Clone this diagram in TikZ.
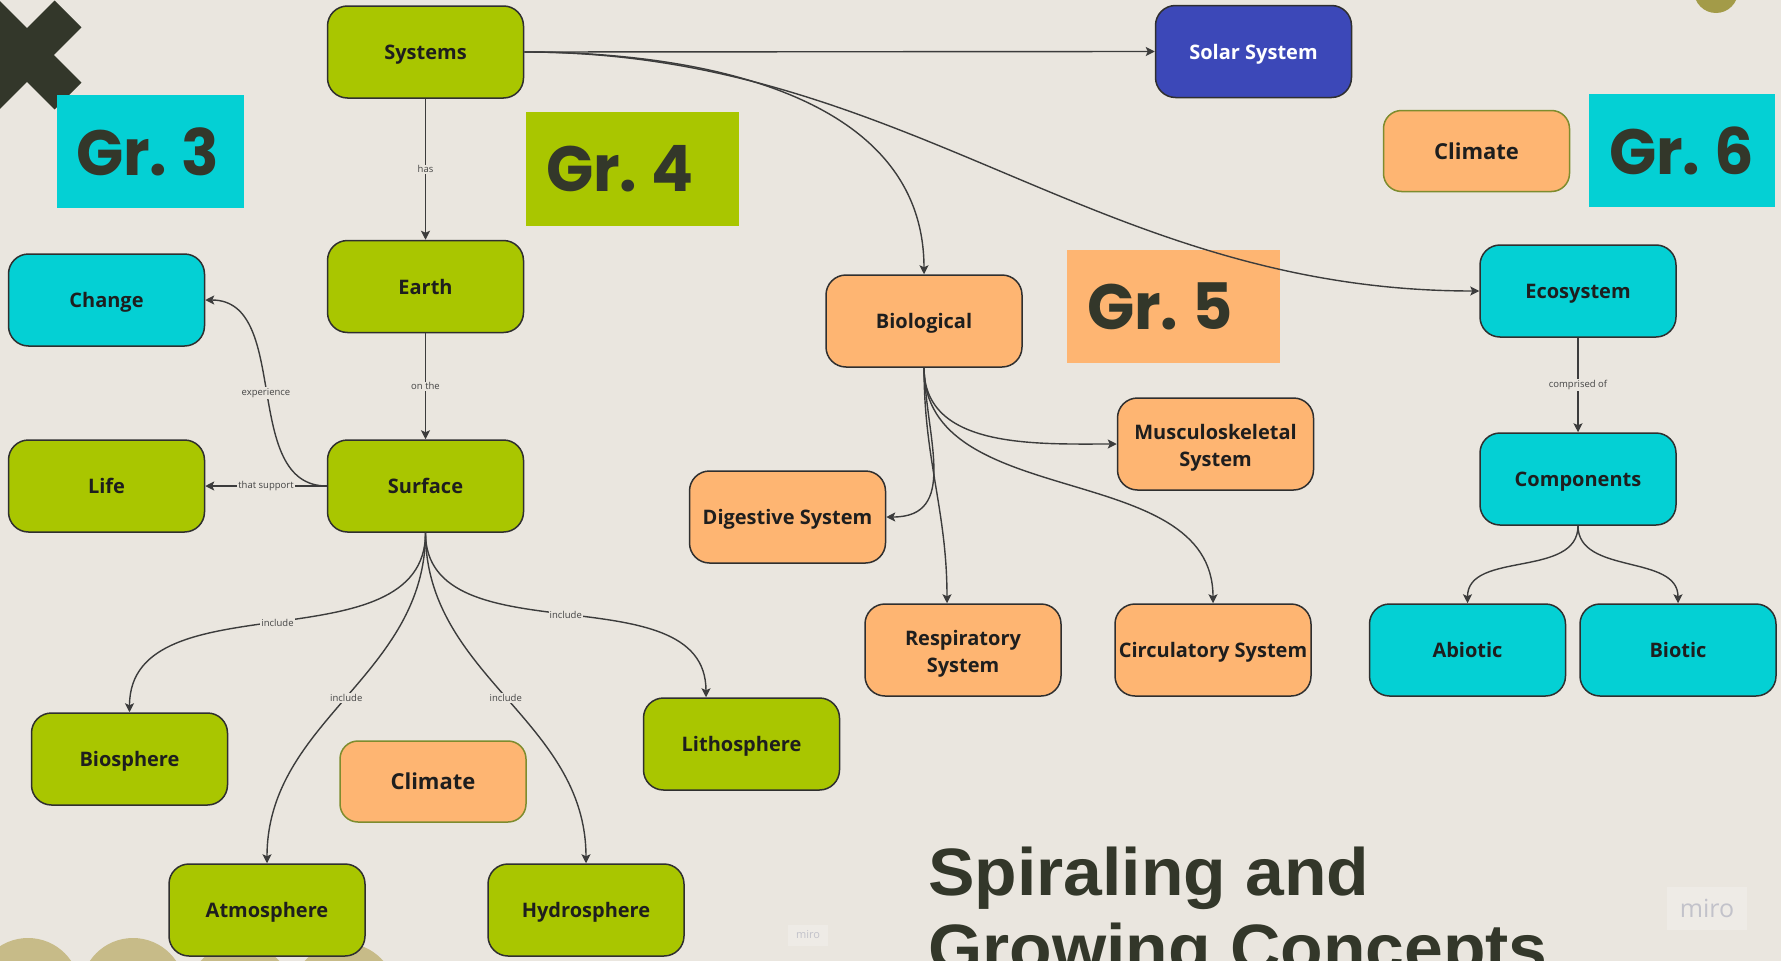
\documentclass[tikz,border=0pt]{standalone}
\usepackage{fontspec}
\usetikzlibrary{arrows.meta}
\newfontfamily\osans{Open Sans}
\newfontfamily\popp{Poppins}[FakeStretch=0.97]
\newfontfamily\lsans{Liberation Sans}[FakeStretch=1.04]

\definecolor{bg}{HTML}{EAE6DF}
\definecolor{lime}{HTML}{A9C600}
\definecolor{aqua}{HTML}{04D0D4}
\definecolor{peach}{HTML}{FEB572}
\definecolor{royal}{HTML}{3C48B8}
\definecolor{ink}{HTML}{1E1E1E}
\definecolor{darkolive}{HTML}{33372A}
\definecolor{rim}{HTML}{2F2F2F}
\definecolor{olivegreen}{HTML}{7E8C2E}
\definecolor{wire}{HTML}{3C3C3C}
\definecolor{lbltext}{HTML}{444444}
\definecolor{khaki}{HTML}{C7BB88}
\definecolor{mustard}{HTML}{A39B48}
\definecolor{wmgray}{HTML}{C2C2CA}
\definecolor{wmfill}{HTML}{EEEBE6}

\tikzset{
  box/.style={rectangle, rounded corners=20pt, draw=rim, line width=1.5pt,
    minimum width=196pt, minimum height=92pt, inner sep=3pt, align=center,
    text=ink, font=\osans\bfseries\fontsize{20}{27}\selectfont},
  oneline/.style={text height=15pt, text depth=0pt},
  greenbox/.style={box, oneline, fill=lime},
  aquabox/.style={box, oneline, fill=aqua},
  peachbox/.style={box, oneline, fill=peach},
  twoline/.style={box, fill=peach},
  bluebox/.style={box, oneline, fill=royal, text=white},
  climatebox/.style={box, fill=peach, draw=olivegreen, rounded corners=18pt,
    minimum width=186pt, minimum height=81pt, text height=16pt, text depth=0pt,
    font=\osans\bfseries\fontsize{22}{27}\selectfont},
  gradebox/.style={rectangle, inner sep=0pt},
  gradetext/.style={anchor=west, inner sep=0pt, text=darkolive,
    font=\popp\bfseries\fontsize{64}{70}\selectfont},
  conn/.style={draw=wire, line width=1.4pt,
    -{Stealth[length=9pt,width=9pt,inset=2pt]}},
  lbl/.style={fill=bg, inner sep=1pt, text=lbltext,
    font=\osans\fontsize{9.5}{11}\selectfont},
  titletext/.style={anchor=base west, text=darkolive, inner sep=0pt,
    font=\lsans\bfseries\fontsize{67}{76}\selectfont},
  watermark/.style={rectangle, fill=wmfill, text=wmgray, inner sep=0pt}
}

\begin{document}
\begin{tikzpicture}[x=1pt,y=1pt]
\useasboundingbox (0,0) rectangle (1781,-961);
\clip (0,0) rectangle (1781,-961);
\fill[bg] (0,0) rectangle (1781,-961);

% decorative shapes
\draw[darkolive, line width=38pt] (-14,-96) -- (68,-14);
\draw[darkolive, line width=38pt] (-14,-14) -- (68,-96);
\fill[mustard] (1716,9) circle (22);
\fill[khaki] (28,-990) circle (52);
\fill[khaki] (133,-990) circle (52);
\fill[khaki] (240,-995) circle (52);
\fill[khaki] (344,-995) circle (52);

% grade tags
\node[gradebox, fill=aqua, minimum width=187pt, minimum height=113pt] (g3) at (150.5,-151.5) {};
\node[gradetext] (g3t) at ([xshift=19pt]g3.west) {Gr.\hspace{14pt}3};
\node[gradebox, fill=lime, minimum width=213pt, minimum height=114pt] (g4) at (632.5,-169) {};
\node[gradetext] (g4t) at ([xshift=20pt]g4.west) {Gr.\hspace{14pt}4};
\node[gradebox, fill=peach, minimum width=213pt, minimum height=113pt] (g5) at (1173.5,-306.5) {};
\node[gradetext] (g5t) at ([xshift=20pt]g5.west) {Gr.\hspace{14pt}5};
\node[gradebox, fill=aqua, minimum width=186pt, minimum height=113pt] (g6) at (1682,-150.5) {};
\node[gradetext] (g6t) at ([xshift=20pt]g6.west) {Gr.\hspace{14pt}6};

% concept boxes
\node[greenbox] (sys) at (425.5,-52) {Systems};
\node[greenbox] (earth) at (425.5,-286.5) {Earth};
\node[greenbox] (surf) at (425.5,-486) {Surface};
\node[aquabox] (change) at (106.5,-300) {Change};
\node[greenbox] (life) at (106.5,-486) {Life};
\node[greenbox] (bios) at (129.5,-759) {Biosphere};
\node[climatebox] (clim1) at (433,-781.5) {Climate};
\node[greenbox] (litho) at (741.5,-744) {Lithosphere};
\node[greenbox] (atmo) at (267,-910) {Atmosphere};
\node[greenbox] (hydro) at (586,-910) {Hydrosphere};
\node[bluebox] (solar) at (1253.5,-51.5) {Solar System};
\node[climatebox] (clim2) at (1476.5,-151) {Climate};
\node[peachbox] (bio) at (924,-321) {Biological};
\node[twoline] (musc) at (1215.5,-444) {\rule{0pt}{22pt}Musculoskeletal\\System};
\node[peachbox] (dig) at (787.5,-517) {Digestive System};
\node[twoline] (resp) at (963,-650) {\rule{0pt}{22pt}Respiratory\\System};
\node[peachbox] (circ) at (1213,-650) {Circulatory System};
\node[aquabox] (eco) at (1578,-291) {Ecosystem};
\node[aquabox] (comp) at (1578,-479) {Components};
\node[aquabox] (abio) at (1467.5,-650) {Abiotic};
\node[aquabox] (biot) at (1678,-650) {Biotic};

% connector end points that sit off the box centre line
\coordinate (lithoin) at ([xshift=-35.5pt]litho.north);
\coordinate (respin) at ([xshift=-16pt]resp.north);

% connectors
\draw[conn] (sys) -- node[lbl] {has} (earth);
\draw[conn] (earth) -- node[lbl] {on the} (surf);
\draw[conn] (surf.west) -- node[lbl] {that support} (life.east);
\draw[conn] (surf.west) to[out=180,in=0] node[lbl] {experience} (change.east);
\draw[conn] (surf.south) to[out=-90,in=90] node[lbl] {include} (bios.north);
\draw[conn] (surf.south) to[out=-90,in=90] node[lbl] {include} (atmo.north);
\draw[conn] (surf.south) to[out=-90,in=90] node[lbl] {include} (hydro.north);
\draw[conn] (surf.south) to[out=-90,in=90] node[lbl] {include} (lithoin);

\draw[conn] (sys.east) -- (solar.west);
\draw[conn] (sys.east) to[out=0,in=90] (bio.north);
\draw[conn] (sys.east) to[out=0,in=180] (eco.west);

\draw[conn] (bio.south) to[out=-90,in=180] (musc.west);
\draw[conn] (bio.south) to[out=-88,in=0,looseness=1.2] (dig.east);
\draw[conn] (bio.south) to[out=-90,in=90] (respin);
\draw[conn] (bio.south) to[out=-90,in=90] (circ.north);

\draw[conn] (eco) -- node[lbl] {comprised of} (comp);
\draw[conn] (comp.south) to[out=-90,in=90] (abio.north);
\draw[conn] (comp.south) to[out=-90,in=90] (biot.north);

% heading
\node[titletext] (title1) at (928,-895) {Spiraling and};
\node[titletext] (title2) at (928,-971) {Growing Concepts};

% board watermarks
\node[watermark, minimum width=80pt, minimum height=43pt, font=\osans\fontsize{25}{28}\selectfont] (wm1) at (1707,-908) {miro};
\node[watermark, minimum width=40pt, minimum height=21pt, font=\osans\fontsize{11}{12}\selectfont] (wm2) at (808,-935) {miro};
\end{tikzpicture}
\end{document}
